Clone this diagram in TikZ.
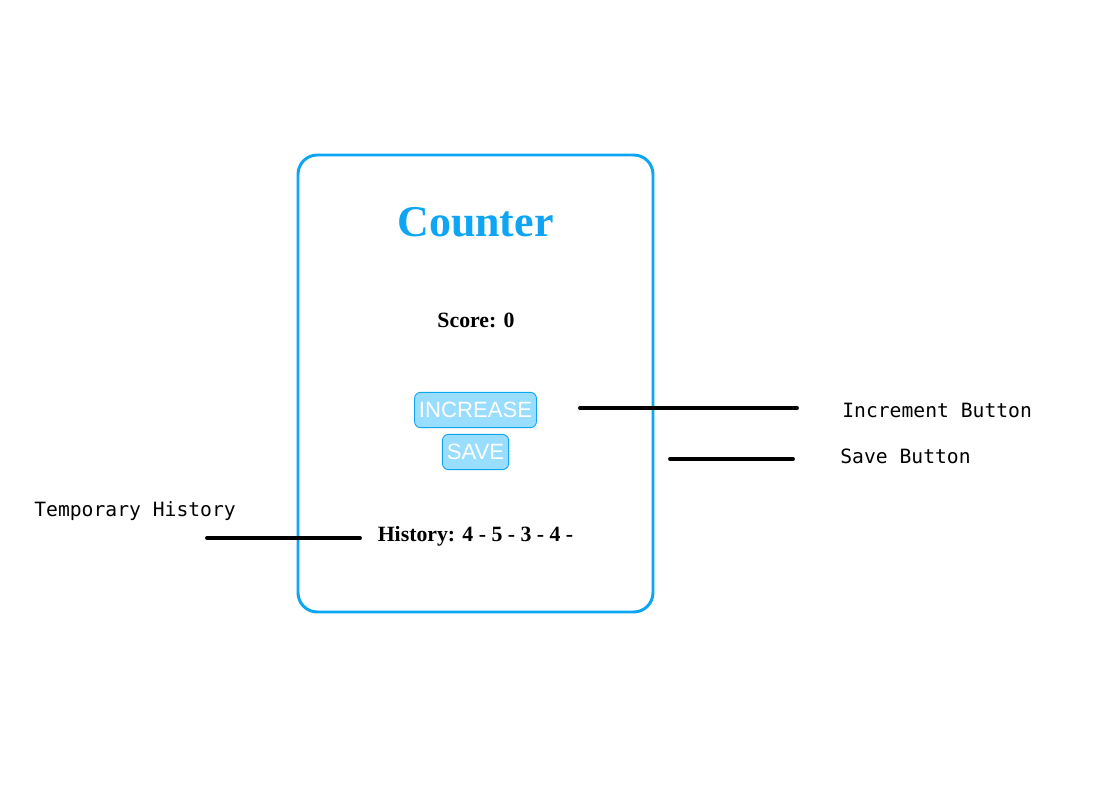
\documentclass[tikz,border=0pt]{standalone}
\usepackage{fontspec}
\setmainfont{Liberation Serif}
\setsansfont{Liberation Sans}
\setmonofont{DejaVu Sans Mono}
\usetikzlibrary{positioning}
\definecolor{skyblue}{RGB}{14,165,245}
\definecolor{btnfill}{RGB}{153,221,255}
\tikzset{
  btn/.style={draw=skyblue, fill=btnfill, rounded corners=3.5pt, line width=.5pt, text=white, font=\sffamily\fontsize{12.6}{14}\selectfont, inner xsep=2.5pt, inner ysep=5.6pt},
  note/.style={font=\ttfamily\fontsize{11.2}{13}\selectfont, anchor=west, inner sep=0pt},
  pointer/.style={line width=2.2pt, line cap=round},
  body/.style={font=\bfseries\fontsize{12.4}{14}\selectfont, inner sep=0pt}
}
\begin{document}
\begin{tikzpicture}[x=0.02cm, y=-0.02cm]
	\useasboundingbox (0,0) rectangle (1120,808);
	\draw[skyblue, line width=1.7pt, rounded corners=11pt] (298,155) rectangle (653,612);
	\node[text=skyblue, font=\bfseries\fontsize{25}{28}\selectfont] (title) at (475.5,222) {Counter};
	\node[body] (score) at (476,320) {Score: 0};
	\node[btn] (inc) at (475.5,410) {INCREASE};
	\node[btn] (save) at (475.5,452) {SAVE};
	\node[body] (hist) at (475.5,536) {History: 4 - 5 - 3 - 4 -};
	\node[note] (incnote) at (842,410) {Increment Button};
	\node[note] (savenote) at (840,456) {Save Button};
	\node[note] (histnote) at (34,511) {Temporary History};
	\coordinate (incA) at (580,408); \coordinate (incB) at (797,408);
	\coordinate (saveA) at (670,459); \coordinate (saveB) at (793,459);
	\coordinate (histA) at (207,538); \coordinate (histB) at (360,538);
	\draw[pointer] (incA)--(incB);
	\draw[pointer] (saveA)--(saveB);
	\draw[pointer] (histA)--(histB);
\end{tikzpicture}
\end{document}
